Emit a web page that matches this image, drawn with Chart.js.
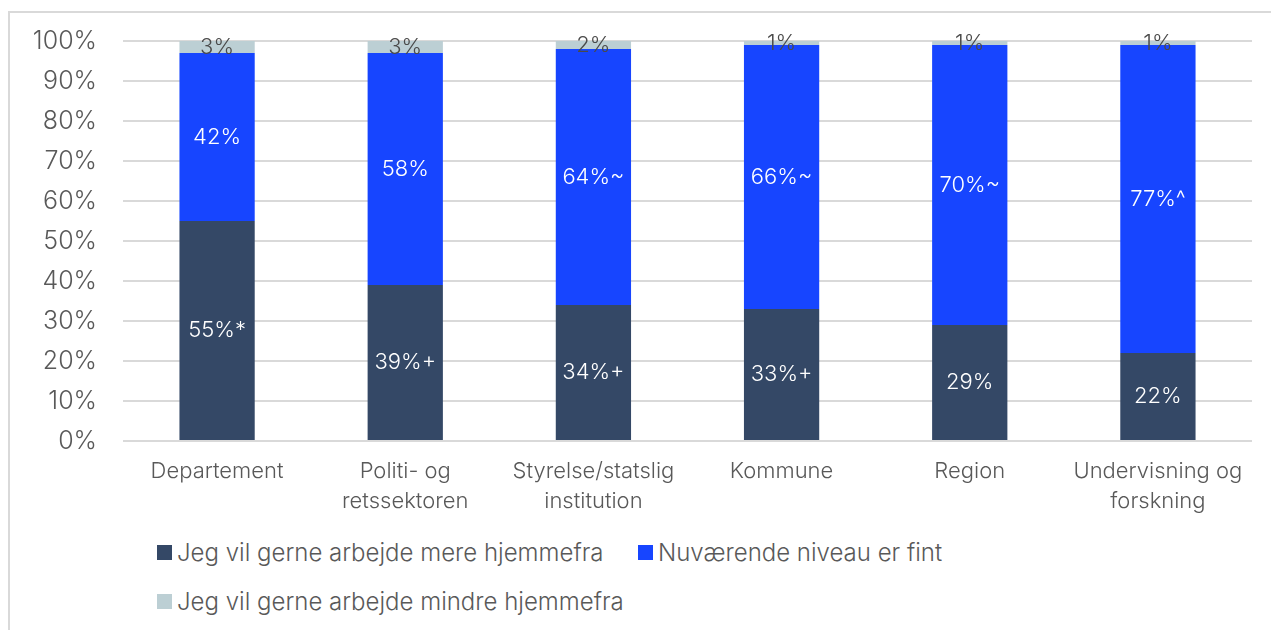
<!DOCTYPE html>
<html>
<head>
<meta charset="utf-8">
<script src="https://cdn.jsdelivr.net/npm/chart.js@4.4.0/dist/chart.umd.min.js"></script>
<style>
    html, body { margin: 0; padding: 0; background: #fff; }
    body { width: 1271px; height: 630px; position: relative; overflow: hidden; font-family: Inter, "Open Sans", sans-serif; font-weight: 300; }
    #frame { position: absolute; left: 8px; top: 11px; right: -4px; bottom: -4px; border-left: 2px solid #d9d9d9; border-top: 2px solid #d9d9d9; }
    #chart-wrap { position: absolute; left: 0; top: 0; width: 1271px; height: 520px; }
    .legend-item { position: absolute; display: flex; align-items: center; font-size: 24px; color: #595959; white-space: nowrap; }
    .legend-item span.box { display: inline-block; width: 15px; height: 15px; margin-right: 5px; }
</style>
</head>
<body>
<div id="frame"></div>
<div id="chart-wrap"><canvas id="chart"></canvas></div>
<div id="legend"></div>
<script>
// ==========================================================================
// Data
// ==========================================================================
const categories = [
    'Departement',
    ['Politi- og', 'retssektoren'],
    ['Styrelse/statslig', 'institution'],
    'Kommune',
    'Region',
    ['Undervisning og', 'forskning']
];
const seriesNames = [
    'Jeg vil gerne arbejde mere hjemmefra',
    'Nuværende niveau er fint',
    'Jeg vil gerne arbejde mindre hjemmefra'
];
const moreHome = [55, 39, 34, 33, 29, 22];
const currentFine = [42, 58, 64, 66, 70, 77];
const lessHome = [3, 3, 2, 1, 1, 1];

const moreHomeLabels = ['55%*', '39%+', '34%+', '33%+', '29%', '22%'];
const currentFineLabels = ['42%', '58%', '64%~', '66%~', '70%~', '77%^'];
const lessHomeLabels = ['3%', '3%', '2%', '1%', '1%', '1%'];

const yTicks = [0, 10, 20, 30, 40, 50, 60, 70, 80, 90, 100];

const colors = ['#344866', '#1745ff', '#bccfd4'];
const labelColors = ['#ffffff', '#ffffff', '#4a4a4a'];

// ==========================================================================
// Segment label plugin
// ==========================================================================
const segmentLabels = {
    id: 'segmentLabels',
    afterDatasetsDraw(chart) {
        const ctx = chart.ctx;
        ctx.save();
        ctx.font = '300 22px Inter, "Open Sans", sans-serif';
        ctx.textAlign = 'center';
        ctx.textBaseline = 'middle';
        chart.data.datasets.forEach((ds, di) => {
            const meta = chart.getDatasetMeta(di);
            meta.data.forEach((bar, i) => {
                const p = bar.getProps(['x', 'y', 'base'], true);
                ctx.fillStyle = labelColors[di];
                ctx.fillText(ds.segmentText[i], p.x, (p.y + p.base) / 2);
            });
        });
        ctx.restore();
    }
};

// ==========================================================================
// Chart
// ==========================================================================
const datasets = [moreHome, currentFine, lessHome].map((values, i) => ({
    label: seriesNames[i],
    data: values,
    backgroundColor: colors[i],
    segmentText: [moreHomeLabels, currentFineLabels, lessHomeLabels][i],
    categoryPercentage: 1,
    barPercentage: 0.4
}));

new Chart(document.getElementById('chart'), {
    type: 'bar',
    data: { labels: categories, datasets: datasets },
    options: {
        responsive: true,
        maintainAspectRatio: false,
        animation: false,
        layout: { padding: { top: 41, right: 19, left: 0, bottom: 0 } },
        plugins: { legend: { display: false }, tooltip: { enabled: false } },
        scales: {
            x: {
                stacked: true,
                grid: { display: false },
                border: { display: false },
                ticks: { color: '#595959', font: { family: 'Inter', size: 22, weight: 300, lineHeight: '30px' }, padding: 7, maxRotation: 0 },
                afterFit: scale => { scale.height = 79; }
            },
            y: {
                stacked: true,
                min: 0,
                max: 100,
                afterBuildTicks: scale => { scale.ticks = yTicks.map(v => ({ value: v })); },
                grid: { color: '#d9d9d9', lineWidth: 2, drawTicks: false },
                border: { display: false },
                ticks: { color: '#595959', font: { family: 'Inter', size: 25, weight: 300 }, padding: 26, callback: v => v + '%' },
                afterFit: scale => { scale.width = 123; }
            }
        }
    },
    plugins: [segmentLabels]
});

// ==========================================================================
// Legend
// ==========================================================================
const legendPos = [[157, 552], [638, 552], [157, 601]];
const legendEl = document.getElementById('legend');
seriesNames.forEach((name, i) => {
    const item = document.createElement('div');
    item.className = 'legend-item';
    item.style.left = legendPos[i][0] + 'px';
    item.style.top = (legendPos[i][1] - 15) + 'px';
    item.style.height = '30px';
    item.innerHTML = '<span class="box" style="background:' + colors[i] + '"></span>' + name;
    legendEl.appendChild(item);
});
</script>
</body>
</html>
